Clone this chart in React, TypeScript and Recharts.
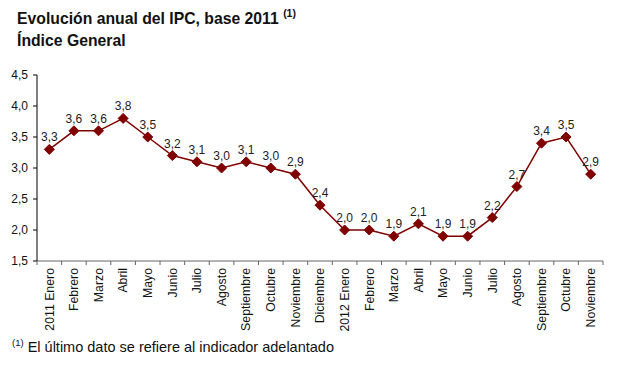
import React from 'react';
import { LineChart, Line, XAxis, YAxis, LabelList } from 'recharts';

const months = [
  '2011 Enero', 'Febrero', 'Marzo', 'Abril', 'Mayo', 'Junio', 'Julio', 'Agosto',
  'Septiembre', 'Octubre', 'Noviembre', 'Diciembre',
  '2012 Enero', 'Febrero', 'Marzo', 'Abril', 'Mayo', 'Junio', 'Julio', 'Agosto',
  'Septiembre', 'Octubre', 'Noviembre',
];
const ipc = [3.3, 3.6, 3.6, 3.8, 3.5, 3.2, 3.1, 3.0, 3.1, 3.0, 2.9, 2.4, 2.0, 2.0, 1.9, 2.1, 1.9, 1.9, 2.2, 2.7, 3.4, 3.5, 2.9];
const yTicks = [1.5, 2.0, 2.5, 3.0, 3.5, 4.0, 4.5];

const data = months.map((m, i) => ({ key: i, label: m, v: ipc[i] }));

const W = 630;
const H = 371;
const M = { top: 75, right: 27, left: 0, bottom: 0 };
const YW = 37;
const XH = 110;
const BAND = (W - M.right - M.left - YW) / months.length;
const FONT = '"Liberation Sans", Arial, sans-serif';
const RED = '#800000';

const fmt = (v: number) => v.toFixed(1).replace('.', ',');

const XTick = (props: any) => {
  const { x, y, payload, index } = props;
  const half = BAND / 2;
  const lbl = months[payload.value] ?? '';
  return (
    <g>
      <line x1={x - half} y1={y} x2={x - half} y2={y + 4} stroke="#666" />
      {index === months.length - 1 && (
        <line x1={x + half} y1={y} x2={x + half} y2={y + 4} stroke="#666" />
      )}
      <text
        x={0}
        y={0}
        transform={`translate(${x},${y + 7}) rotate(-90)`}
        textAnchor="end"
        dy="0.35em"
        fontSize={12.3}
        fontFamily={FONT}
        fill="#111"
      >
        {lbl}
      </text>
    </g>
  );
};

const Diamond = (props: any) => {
  const { cx, cy } = props;
  if (cx == null || cy == null) return null;
  const r = 5;
  return (
    <polygon
      points={`${cx},${cy - r} ${cx + r},${cy} ${cx},${cy + r} ${cx - r},${cy}`}
      fill={RED}
      stroke={RED}
    />
  );
};

export default function App() {
  return (
    <div style={{ position: 'absolute', left: 0, top: 0, width: W, height: H, background: '#fff', fontFamily: FONT }}>
      <div style={{ position: 'absolute', left: 17, top: 10, fontSize: 15.75, fontWeight: 'bold', color: '#111', whiteSpace: 'nowrap', lineHeight: '18px' }}>
        Evolución anual del IPC, base 2011{' '}
        <span style={{ fontSize: 10.5, position: 'relative', top: -7 }}>(1)</span>
      </div>
      <div style={{ position: 'absolute', left: 17, top: 32, fontSize: 15.75, fontWeight: 'bold', color: '#111', whiteSpace: 'nowrap', lineHeight: '18px' }}>
        Índice General
      </div>
      <div style={{ position: 'absolute', left: 0, top: 0 }}>
        <LineChart width={W} height={H} data={data} margin={M}>
          <XAxis
            dataKey="key"
            type="category"
            height={XH}
            interval={0}
            padding={{ left: BAND / 2, right: BAND / 2 }}
            tickSize={0}
            tickMargin={0}
            tickLine={false}
            stroke="#666"
            tick={<XTick />}
          />
          <YAxis
            width={YW}
            domain={[1.5, 4.5]}
            ticks={yTicks}
            tickFormatter={fmt}
            tickSize={4}
            tickMargin={5}
            stroke="#000"
            tick={{ fontSize: 12, fontFamily: FONT, fill: '#111' }}
          />
          <Line
            dataKey="v"
            stroke={RED}
            strokeWidth={1.5}
            dot={<Diamond />}
            activeDot={false}
            isAnimationActive={false}
          >
            <LabelList
              dataKey="v"
              position="top"
              offset={8}
              formatter={(v: any) => fmt(Number(v))}
              style={{ fontSize: 12, fontFamily: FONT, fill: '#222' }}
            />
          </Line>
        </LineChart>
      </div>
      <div style={{ position: 'absolute', left: 12, top: 338, fontSize: 14.5, color: '#111', whiteSpace: 'nowrap', lineHeight: '18px' }}>
        <span style={{ fontSize: 9.5, position: 'relative', top: -6 }}>(1)</span>{' '}El último dato se refiere al indicador adelantado
      </div>
    </div>
  );
}
